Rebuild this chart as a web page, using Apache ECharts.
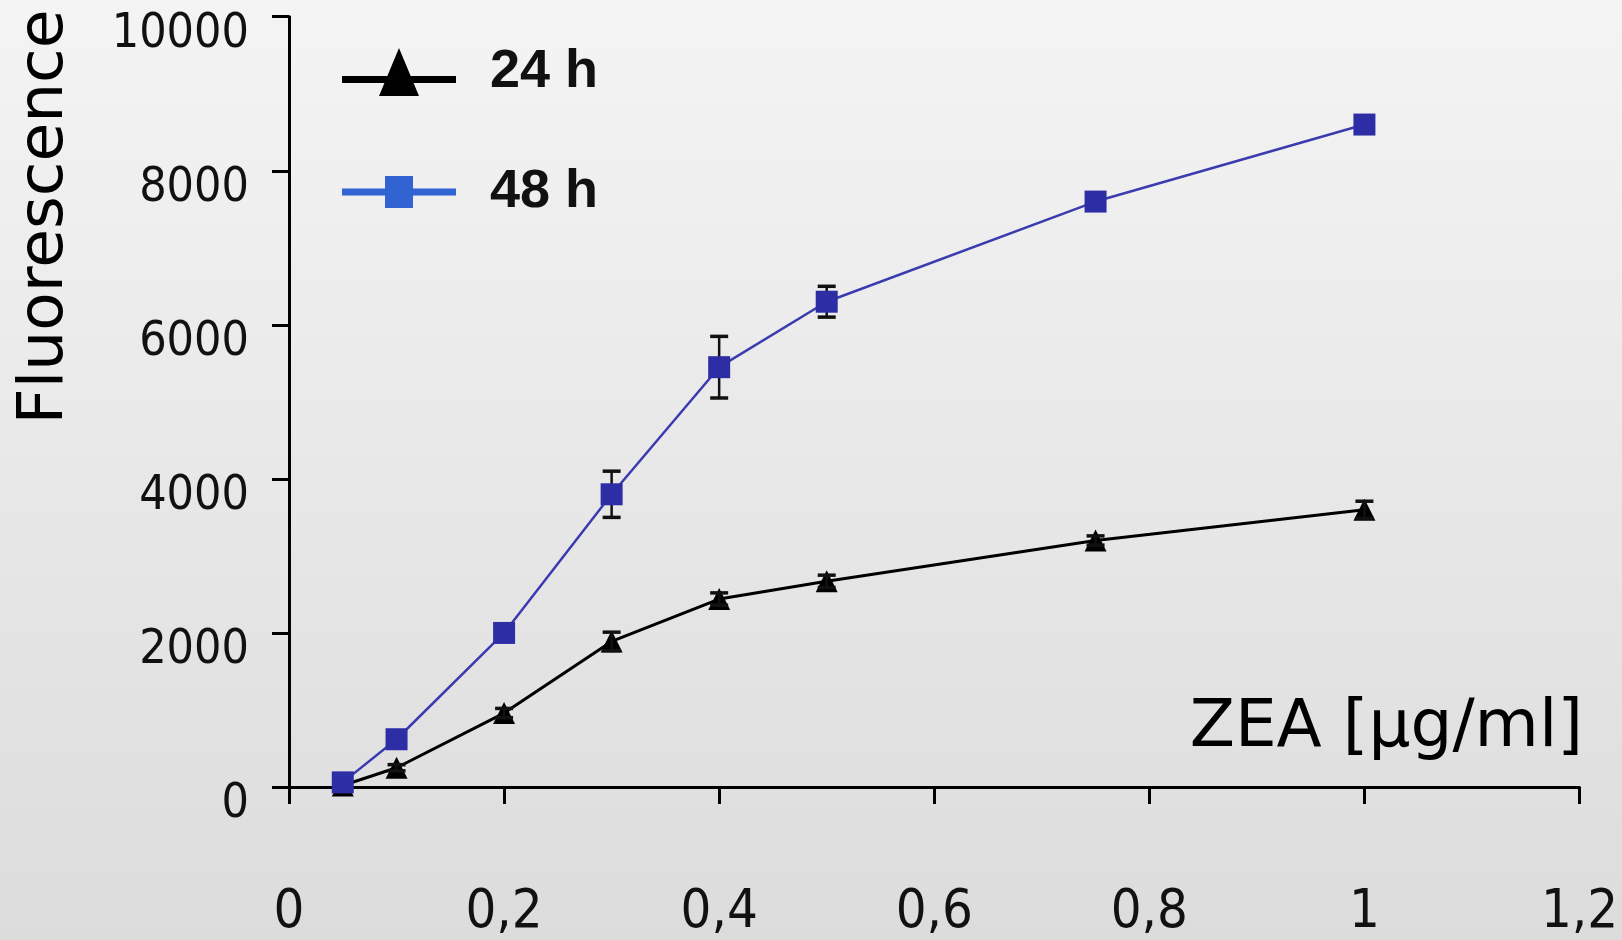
<!DOCTYPE html>
<html>
<head>
<meta charset="utf-8">
<script src="https://cdn.jsdelivr.net/npm/echarts@6/dist/echarts.min.js"></script>
<style>
html,body{margin:0;padding:0;}
#chart{width:1622px;height:940px;}
</style>
</head>
<body>
<div id="chart"></div>
<script>
// ---- data ----
const xValues = [0.05, 0.1, 0.2, 0.3, 0.4, 0.5, 0.75, 1.0];
const h24 = [20, 250, 960, 1890, 2440, 2670, 3200, 3600];
const h48 = [60, 620, 2000, 3800, 5450, 6300, 7600, 8600];
const err24 = [0, 40, 60, 120, 80, 80, 60, 110];
const err48 = [0, 0, 0, 300, 400, 200, 0, 0];
const seriesNames = ['24 h', '48 h'];
const xAxisTitle = 'ZEA [µg/ml]';
const yAxisTitle = 'Fluorescence';

const pts24 = xValues.map((x, i) => [x, h24[i]]);
const pts48 = xValues.map((x, i) => [x, h48[i]]);
const errData24 = xValues.map((x, i) => [x, h24[i], err24[i]]);
const errData48 = xValues.map((x, i) => [x, h48[i], err48[i]]);

function errorRender(params, api) {
  const x = api.value(0), y = api.value(1), e = api.value(2);
  if (!e) return null;
  const top = api.coord([x, y + e]);
  const bot = api.coord([x, y - e]);
  const hw = 9;
  return {
    type: 'group',
    children: [
      { type: 'line', shape: { x1: top[0], y1: top[1], x2: bot[0], y2: bot[1] }, style: { stroke: '#111', lineWidth: 2.5 } },
      { type: 'line', shape: { x1: top[0] - hw, y1: top[1], x2: top[0] + hw, y2: top[1] }, style: { stroke: '#111', lineWidth: 3.5 } },
      { type: 'line', shape: { x1: bot[0] - hw, y1: bot[1], x2: bot[0] + hw, y2: bot[1] }, style: { stroke: '#111', lineWidth: 3.5 } }
    ]
  };
}

// legend icons: thick line with the marker in the middle
const icon24 = 'path://M0,28L114,28L114,35L0,35Z M37,48L57,0L77,48Z';
const icon48 = 'path://M0,20.5L114,20.5L114,27.5L0,27.5Z M43,8L71,8L71,40L43,40Z';

const tickFont = 'Liberation Sans Narrow, DejaVu Sans Condensed, Liberation Sans, sans-serif';

const chart = echarts.init(document.getElementById('chart'), null, { renderer: 'canvas' });
chart.setOption({
  animation: false,
  backgroundColor: {
    type: 'linear', x: 0, y: 0, x2: 0, y2: 1,
    colorStops: [{ offset: 0, color: '#f4f4f4' }, { offset: 1, color: '#dcdcdc' }]
  },
  grid: { left: 289, right: 42.5, top: 16.7, bottom: 138.3, containLabel: false },
  legend: {
    orient: 'vertical',
    left: 337,
    top: 40,
    itemWidth: 114,
    itemHeight: 48,
    itemGap: 66,
    symbolKeepAspect: true,
    textStyle: {
      fontFamily: 'Liberation Sans, Arial, sans-serif',
      fontWeight: 'bold',
      fontSize: 54,
      lineHeight: 54,
      color: '#111',
      padding: [0, 0, 0, 29]
    },
    data: [
      { name: seriesNames[0], icon: icon24, itemStyle: { color: '#000' } },
      { name: seriesNames[1], icon: icon48, itemStyle: { color: '#3163d2' } }
    ]
  },
  xAxis: {
    type: 'value',
    min: 0, max: 1.2, interval: 0.2,
    splitLine: { show: false },
    axisLine: { show: true, onZero: false, lineStyle: { color: '#000', width: 3 } },
    axisTick: { show: true, inside: false, length: 17, lineStyle: { color: '#000', width: 3 } },
    axisLabel: {
      margin: 99,
      fontFamily: tickFont,
      fontSize: 54,
      color: '#111',
      formatter: v => String(+v.toFixed(1)).replace('.', ',')
    }
  },
  yAxis: {
    type: 'value',
    min: 0, max: 10000, interval: 2000,
    splitLine: { show: false },
    axisLine: { show: true, lineStyle: { color: '#000', width: 3 } },
    axisTick: { show: true, inside: false, length: 17, lineStyle: { color: '#000', width: 3 } },
    axisLabel: {
      margin: 40,
      fontFamily: tickFont,
      fontSize: 48,
      lineHeight: 36,
      color: '#111',
      verticalAlign: 'top',
      formatter: v => String(v)
    }
  },
  graphic: [
    {
      type: 'text',
      x: 46, y: 217,
      rotation: Math.PI / 2,
      style: {
        text: yAxisTitle,
        fontFamily: 'DejaVu Sans, Verdana, sans-serif',
        fontSize: 63,
        fill: '#000',
        align: 'center',
        verticalAlign: 'middle'
      }
    },
    {
      type: 'text',
      x: 1583, y: 729,
      style: {
        text: xAxisTitle,
        fontFamily: 'DejaVu Sans, Verdana, sans-serif',
        fontSize: 66,
        fill: '#000',
        align: 'right',
        verticalAlign: 'middle'
      }
    }
  ],
  series: [
    {
      name: seriesNames[0],
      type: 'line',
      data: pts24,
      symbol: 'triangle',
      symbolSize: 22,
      itemStyle: { color: '#000' },
      lineStyle: { color: '#000', width: 3 },
      z: 3
    },
    {
      name: 'err24',
      type: 'custom',
      data: errData24,
      renderItem: errorRender,
      encode: { x: 0, y: 1 },
      z: 4
    },
    {
      name: seriesNames[1],
      type: 'line',
      data: pts48,
      symbol: 'rect',
      symbolSize: 22,
      itemStyle: { color: '#2d2da6' },
      lineStyle: { color: '#3b3bb0', width: 2.5 },
      z: 5
    },
    {
      name: 'err48',
      type: 'custom',
      data: errData48,
      renderItem: errorRender,
      encode: { x: 0, y: 1 },
      z: 4
    }
  ]
});
</script>
</body>
</html>
